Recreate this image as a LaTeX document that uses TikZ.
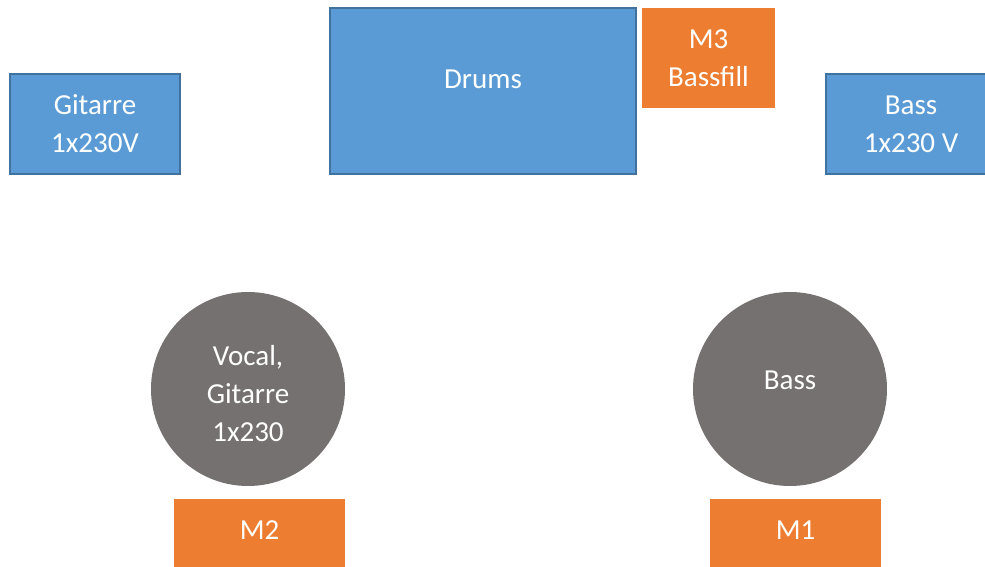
\documentclass[tikz,border=0pt]{standalone}
\usepackage{fontspec}
\setmainfont{Carlito}
\definecolor{boxblue}{HTML}{5B9BD5}
\definecolor{boxedge}{HTML}{41719C}
\definecolor{mixorange}{HTML}{ED7D31}
\definecolor{perfgray}{HTML}{767171}
\begin{document}
\begin{tikzpicture}[x=1pt,y=-1pt,
  every node/.style={font=\fontsize{29}{38}\selectfont, text=white, align=center, inner sep=0pt},
  amp/.style={fill=boxblue, draw=boxedge, line width=2.2pt},
  mon/.style={fill=mixorange},
  player/.style={circle, fill=perfgray, minimum size=194pt}]
\useasboundingbox (0,0) rectangle (985,567);
\clip (0,0) rectangle (985,567);
\node[amp, minimum width=170pt, minimum height=100pt] (gitamp) at (95,124) {Gitarre\\1x230V};
\node[amp, minimum width=306pt, minimum height=166pt] (drums) at (483,91) {\raisebox{23pt}{Drums}};
\node[mon, minimum width=133pt, minimum height=100pt] (m3) at (708.5,58) {M3\\Bassfill};
\node[amp, minimum width=170pt, minimum height=100pt] (bassamp) at (911,124) {Bass\\1x230 V};
\node[player] (vocal) at (248,389) {\raisebox{-13pt}[0pt][0pt]{\begin{tabular}{@{}c@{}}Vocal,\\Gitarre\\1x230\end{tabular}}};
\node[player] (bass) at (790,389) {\raisebox{18pt}{Bass}};
\node[mon, minimum width=171pt, minimum height=68pt] (m2) at (259.5,533) {\raisebox{6pt}{M2}};
\node[mon, minimum width=171pt, minimum height=68pt] (m1) at (795.5,533) {\raisebox{6pt}{M1}};
\end{tikzpicture}
\end{document}
